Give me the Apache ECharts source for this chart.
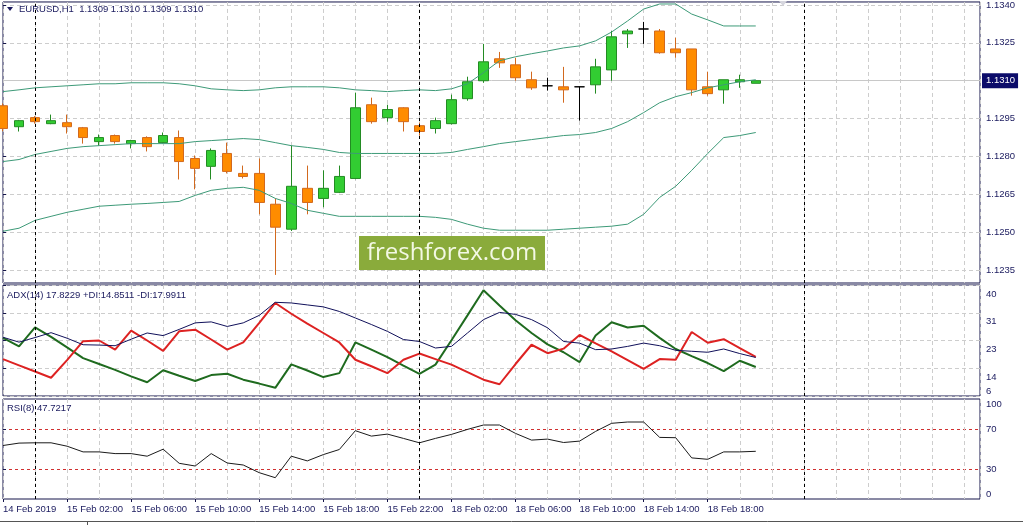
<!DOCTYPE html>
<html><head><meta charset="utf-8">
<script src="https://cdn.jsdelivr.net/npm/echarts@6/dist/echarts.min.js"></script>
<style>html,body{margin:0;padding:0;background:#fff}#c{width:1023px;height:525px}</style>
</head><body><div id="c"></div>
<script>
// ---- data (EURUSD H1, index 0 = 14 Feb 22:00) ----
const opens  = [1.13001,1.12918,1.12954,1.12930,1.12934,1.12914,1.12859,1.12883,1.12851,1.12875,1.12855,1.12875,1.12792,1.12761,1.12812,1.12733,1.12733,1.12611,1.12512,1.12674,1.12634,1.12658,1.12713,1.13005,1.12954,1.12993,1.12922,1.12911,1.12930,1.13029,1.13100,1.13187,1.13163,1.13104,1.13080,1.13076,1.13076,1.13084,1.13143,1.13286,1.13305,1.13297,1.13226,1.13226,1.13076,1.13064,1.13096,1.13090];
const closes = [1.12911,1.12942,1.12938,1.12942,1.12918,1.12875,1.12875,1.12859,1.12863,1.12839,1.12883,1.12780,1.12753,1.12824,1.12741,1.12721,1.12618,1.12520,1.12682,1.12618,1.12674,1.12721,1.12993,1.12938,1.12986,1.12938,1.12899,1.12942,1.13025,1.13096,1.13175,1.13171,1.13112,1.13072,1.13080,1.13064,1.13076,1.13155,1.13274,1.13297,1.13305,1.13211,1.13211,1.13064,1.13049,1.13104,1.13104,1.13100];
const lows   = [1.12900,1.12899,1.12930,1.12928,1.12891,1.12851,1.12843,1.12851,1.12832,1.12820,1.12852,1.12709,1.12670,1.12709,1.12733,1.12713,1.12571,1.12331,1.12505,1.12571,1.12599,1.12655,1.12710,1.12930,1.12938,1.12899,1.12883,1.12891,1.12927,1.13021,1.13092,1.13151,1.13100,1.13064,1.13061,1.13013,1.12942,1.13049,1.13100,1.13230,1.13246,1.13207,1.13191,1.13041,1.13041,1.13009,1.13072,1.13090];
const highs  = [1.13010,1.12945,1.12960,1.12966,1.12966,1.12917,1.12887,1.12887,1.12866,1.12880,1.12895,1.12903,1.12804,1.12832,1.12855,1.12764,1.12792,1.12634,1.12843,1.12764,1.12745,1.12764,1.13053,1.13033,1.13005,1.12995,1.12934,1.12954,1.13045,1.13116,1.13246,1.13214,1.13191,1.13136,1.13112,1.13155,1.13076,1.13187,1.13297,1.13305,1.13333,1.13305,1.13270,1.13226,1.13136,1.13104,1.13124,1.13100];

const bbUpper  = [1.13057,1.13064,1.13072,1.13076,1.13080,1.13084,1.13088,1.13088,1.13092,1.13092,1.13092,1.13088,1.13080,1.13068,1.13064,1.13061,1.13064,1.13072,1.13076,1.13076,1.13076,1.13072,1.13064,1.13061,1.13057,1.13061,1.13064,1.13061,1.13068,1.13088,1.13132,1.13179,1.13195,1.13207,1.13218,1.13230,1.13238,1.13258,1.13293,1.13337,1.13384,1.13404,1.13404,1.13364,1.13341,1.13317,1.13317,1.13317];
const bbMiddle = [1.12780,1.12788,1.12808,1.12820,1.12832,1.12839,1.12843,1.12847,1.12851,1.12851,1.12851,1.12851,1.12859,1.12863,1.12867,1.12871,1.12867,1.12855,1.12843,1.12836,1.12828,1.12816,1.12812,1.12812,1.12812,1.12812,1.12812,1.12812,1.12816,1.12828,1.12839,1.12851,1.12859,1.12867,1.12875,1.12883,1.12887,1.12895,1.12911,1.12938,1.12974,1.13013,1.13037,1.13053,1.13072,1.13084,1.13096,1.13104];
const bbLower  = [1.12504,1.12516,1.12547,1.12563,1.12579,1.12591,1.12603,1.12607,1.12611,1.12614,1.12618,1.12622,1.12646,1.12666,1.12674,1.12678,1.12666,1.12634,1.12614,1.12587,1.12575,1.12563,1.12563,1.12563,1.12563,1.12563,1.12563,1.12559,1.12551,1.12532,1.12516,1.12508,1.12508,1.12508,1.12508,1.12512,1.12516,1.12520,1.12524,1.12532,1.12571,1.12638,1.12682,1.12745,1.12812,1.12875,1.12883,1.12895];

const adx     = [24.0,22.5,23.9,25.4,23.7,21.7,21.6,21.4,23.4,25.3,24.5,26.4,28.4,28.7,27.3,28.4,30.7,34.7,34.5,33.9,33.3,31.9,29.9,27.9,25.8,23.3,22.7,20.7,21.2,25.3,29.4,31.6,31.0,29.4,26.9,22.7,22.2,20.2,20.4,21.2,22.2,21.4,20.0,19.7,19.4,20.4,19.0,17.8];
const plusDI  = [23.8,21.2,27.0,24.1,20.9,17.6,15.8,14.0,12.0,10.2,13.9,12.2,10.6,12.4,12.8,11.0,9.8,8.5,15.7,13.8,11.8,13.0,22.4,20.2,17.9,15.3,12.8,15.6,23.1,30.7,38.4,33.7,29.2,25.3,21.8,19.4,16.4,24.5,28.6,27.0,27.5,23.8,20.4,18.2,16.1,13.6,16.8,14.9];
const minusDI = [17.3,15.4,13.5,11.6,17.0,22.8,23.0,20.2,26.0,23.0,19.8,25.8,26.3,23.3,20.2,22.4,28.4,34.5,31.2,28.2,25.3,22.4,17.1,15.1,13.0,17.1,19.0,17.3,15.6,13.3,11.0,9.6,15.8,21.7,19.1,20.5,24.7,22.1,19.7,17.0,14.3,17.3,17.1,25.6,22.3,23.4,20.7,18.0];
const rsi     = [53.5,55.9,56.2,56.2,52.8,47.1,47.1,45.4,45.4,42.8,49.8,35.7,33.0,45.4,36.0,34.0,26.3,21.3,42.8,38.1,44.4,49.5,68.3,62.9,64.9,60.6,56.2,60.6,64.6,69.6,74.0,74.0,65.6,58.9,59.9,56.5,57.9,67.6,75.7,77.0,77.0,61.6,61.3,41.1,39.7,47.1,47.1,47.7];

const priceTicks  = [1.1235,1.1250,1.1265,1.1280,1.1295,1.1310,1.1325,1.1340];
const priceLabels = [1.1235,1.1250,1.1265,1.1280,1.1295,1.1325,1.1340];
const bidPrice = 1.1310;
const timeLabelIdx = [0,4,8,12,16,20,24,28,32,36,40,44];
const timeLabels = ['14 Feb 2019','15 Feb 02:00','15 Feb 06:00','15 Feb 10:00','15 Feb 14:00','15 Feb 18:00','15 Feb 22:00','18 Feb 02:00','18 Feb 06:00','18 Feb 10:00','18 Feb 14:00','18 Feb 18:00'];
const separators = [2, 26, 50];
const rsiLevels = [30, 70];
const headerText = 'EURUSD,H1  1.1309 1.1310 1.1309 1.1310';
const adxText = 'ADX(14) 17.8229 +DI:14.8511 -DI:17.9911';
const rsiText = 'RSI(8) 47.7217';

// ---- styling ----
const FONT = "'Liberation Sans', Arial, sans-serif";
const NAVY = '#1a1a5e';
const FRAME = '#14144a';
const GRIDC = '#cdcdcd';
const FS = 9.5;
const X_MAX = 61;
const PRICE_MIN = 1.12299, PRICE_MAX = 1.13412;

const pts = arr => arr.map((v, i) => [i, v]);
const candleData = opens.map((o, i) => [i, o, closes[i], lows[i], highs[i]]);
const sepMark = () => ({
  silent: true, symbol: ['none', 'none'], label: {show: false},
  lineStyle: {color: '#000', type: [3, 3], width: 1},
  data: separators.map(v => ({xAxis: v}))
});

const grids = [
  {left: 3, right: 43, top: 1, height: 282},
  {left: 3, right: 43, top: 285, height: 111},
  {left: 3, right: 43, top: 399, height: 100}
].map(g => Object.assign(g, {show: true, borderColor: FRAME, borderWidth: 1, backgroundColor: '#fff'}));

const baseX = gi => ({
  type: 'value', gridIndex: gi, position: 'bottom', min: 0, max: X_MAX, interval: 2,
  axisLine: {show: false}, axisTick: {show: false}, axisLabel: {show: false},
  splitLine: {show: true, lineStyle: {color: GRIDC, type: [4, 3], width: 1}}
});
const lbl = extra => Object.assign({color: NAVY, fontSize: FS, fontFamily: FONT, margin: 6}, extra);
const hiddenY = (gi, min, max, labelOpt) => ({
  type: 'value', gridIndex: gi, position: 'right', min: min, max: max,
  axisLine: {show: false}, axisTick: {show: false}, splitLine: {show: false},
  axisLabel: lbl(labelOpt)
});

const option = {
  animation: false,
  backgroundColor: '#fff',
  textStyle: {fontFamily: FONT},
  title: [
    {text: headerText, left: 19, top: 4, padding: 0, textStyle: {fontSize: FS, fontWeight: 'normal', color: NAVY, fontFamily: FONT}},
    {text: adxText, left: 7, top: 290, padding: 0, textStyle: {fontSize: FS, fontWeight: 'normal', color: NAVY, fontFamily: FONT}},
    {text: rsiText, left: 7, top: 403, padding: 0, textStyle: {fontSize: FS, fontWeight: 'normal', color: NAVY, fontFamily: FONT}}
  ],
  grid: grids,
  xAxis: [
    baseX(0), baseX(1), baseX(2),
    {
      type: 'value', gridIndex: 2, position: 'bottom', min: 0, max: X_MAX,
      axisLine: {show: false}, splitLine: {show: false},
      axisTick: {show: true, length: 3, customValues: timeLabelIdx, lineStyle: {color: FRAME}},
      axisLabel: lbl({margin: 5, align: 'left', customValues: timeLabelIdx,
        formatter: v => timeLabels[timeLabelIdx.indexOf(Math.round(v))] || ''})
    }
  ],
  yAxis: [
    {
      type: 'value', gridIndex: 0, position: 'right', min: PRICE_MIN, max: PRICE_MAX, scale: true,
      axisLine: {show: false},
      axisTick: {show: true, length: 3, customValues: priceTicks, lineStyle: {color: FRAME}},
      axisLabel: lbl({customValues: priceLabels, formatter: v => v.toFixed(4)}),
      splitLine: {show: true, lineStyle: {color: GRIDC, type: [4, 3], width: 1}}
    },
    {
      type: 'value', gridIndex: 1, position: 'right', min: 6, max: 40, interval: 8.5,
      axisLine: {show: false},
      axisTick: {show: true, length: 3, lineStyle: {color: FRAME}},
      axisLabel: lbl({verticalAlign: 'top', padding: [4, 0, 0, 0], showMinLabel: false,
        formatter: v => String(Math.floor(v + 1e-9))}),
      splitLine: {show: true, lineStyle: {color: GRIDC, type: [4, 3], width: 1}}
    },
    hiddenY(1, 6, 40, {customValues: [6], verticalAlign: 'bottom', formatter: v => String(Math.round(v))}),
    {
      type: 'value', gridIndex: 2, position: 'right', min: 0, max: 100,
      axisLine: {show: false},
      splitLine: {show: true, lineStyle: {color: '#d03030', type: [3, 3], width: 1}},
      axisTick: {show: true, length: 3, customValues: rsiLevels, lineStyle: {color: FRAME}},
      axisLabel: lbl({customValues: rsiLevels, formatter: v => String(Math.round(v))})
    },
    hiddenY(2, 0, 100, {customValues: [100], verticalAlign: 'top', formatter: v => String(Math.round(v))}),
    hiddenY(2, 0, 100, {customValues: [0], verticalAlign: 'bottom', formatter: v => String(Math.round(v))})
  ],
  series: [
    {
      type: 'candlestick', xAxisIndex: 0, yAxisIndex: 0, data: candleData, barWidth: 10, z: 2,
      itemStyle: {color: '#32cd32', color0: '#ff8c00', borderColor: '#238b23', borderColor0: '#d2691e', borderColorDoji: '#000000', borderWidth: 1}
    },
    {type: 'line', xAxisIndex: 0, yAxisIndex: 0, data: pts(bbUpper), symbol: 'none', lineStyle: {color: '#3d9a78', width: 1}, z: 3, markLine: sepMark()},
    {type: 'line', xAxisIndex: 0, yAxisIndex: 0, data: pts(bbMiddle), symbol: 'none', lineStyle: {color: '#3d9a78', width: 1}, z: 3,
      markLine: {
        silent: true, symbol: ['none', 'none'], precision: 5, z: 1,
        data: [{yAxis: bidPrice}],
        lineStyle: {color: '#c8c8c8', type: 'solid', width: 1},
        label: {show: true, position: 'end', distance: 2, formatter: () => bidPrice.toFixed(4),
          color: '#fff', backgroundColor: '#0c0c6a', padding: [3, 3, 2, 4], fontSize: FS, fontFamily: FONT}
      }
    },
    {type: 'line', xAxisIndex: 0, yAxisIndex: 0, data: pts(bbLower), symbol: 'none', lineStyle: {color: '#3d9a78', width: 1}, z: 3},
    {type: 'line', xAxisIndex: 1, yAxisIndex: 1, data: pts(adx), symbol: 'none', lineStyle: {color: '#10105a', width: 1}, z: 4, markLine: sepMark()},
    {type: 'line', xAxisIndex: 1, yAxisIndex: 1, data: pts(plusDI), symbol: 'none', lineStyle: {color: '#1f6b1f', width: 2}, z: 3},
    {type: 'line', xAxisIndex: 1, yAxisIndex: 1, data: pts(minusDI), symbol: 'none', lineStyle: {color: '#dd2222', width: 2}, z: 3},
    {type: 'line', xAxisIndex: 2, yAxisIndex: 3, data: pts(rsi), symbol: 'none', lineStyle: {color: '#1a1a1a', width: 1}, z: 3, markLine: sepMark()}
  ],
  graphic: [
    {type: 'polygon', shape: {points: [[7, 7], [13, 7], [10, 11]]}, style: {fill: NAVY}, z: 100},
    {type: 'polygon', shape: {points: [[779, 1], [787, 1], [783, 6]]}, style: {fill: '#d6d6de'}, z: 100},
    {type: 'rect', shape: {x: 359, y: 236, width: 186, height: 34}, style: {fill: '#8aab3b'}, z: 100},
    {type: 'text', x: 452, y: 253, style: {text: 'freshforex.com', fill: '#f3f8e4', fontSize: 24, fontFamily: "'Open Sans', sans-serif", align: 'center', verticalAlign: 'middle'}, z: 101},
    {type: 'line', shape: {x1: 0, y1: 521.5, x2: 1023, y2: 521.5}, style: {stroke: '#555', lineWidth: 1}, z: 100},
    {type: 'line', shape: {x1: 87.5, y1: 521.5, x2: 87.5, y2: 525}, style: {stroke: '#555', lineWidth: 1}, z: 100}
  ]
};

const chart = echarts.init(document.getElementById('c'), null, {renderer: 'canvas', width: 1023, height: 525});
chart.setOption(option);
</script>
</body></html>
